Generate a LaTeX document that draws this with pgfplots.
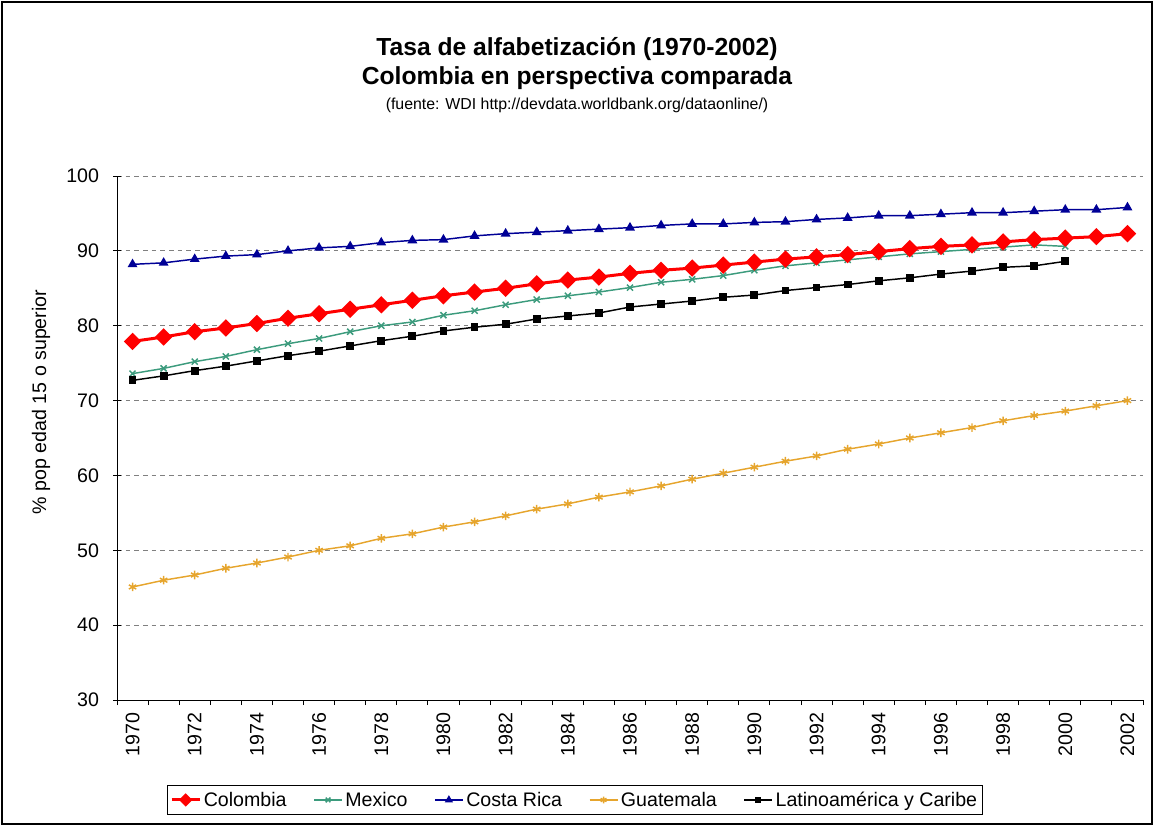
\documentclass[border=0pt]{standalone}
\usepackage{fontspec}
\setmainfont{Liberation Sans}
\usepackage{pgfplots}
\pgfplotsset{compat=1.18}
\definecolor{colred}{RGB}{255,0,0}
\definecolor{mexgreen}{RGB}{60,155,125}
\definecolor{crblue}{RGB}{0,0,150}
\definecolor{guagold}{RGB}{230,165,45}
\definecolor{gridgray}{RGB}{128,128,128}
\begin{document}
\begin{tikzpicture}
\useasboundingbox (0pt,0pt) rectangle (865.5pt,619.5pt);
\draw[line width=1.5pt] (1.5pt,1.5pt) rectangle (864pt,618pt);
\node[anchor=base,font=\fontsize{18.5}{22}\selectfont\bfseries] at (432.75pt,577.5pt) {Tasa de alfabetización (1970-2002)};
\node[anchor=base,font=\fontsize{18.5}{22}\selectfont\bfseries] at (432.75pt,555.75pt) {Colombia en perspectiva comparada};
\node[anchor=base,font=\fontsize{11.9}{14}\selectfont] at (432.75pt,537pt) {(fuente: WDI http://devdata.worldbank.org/dataonline/)};
\node[rotate=90,font=\fontsize{14.7}{17}\selectfont] at (30.75pt,318pt) {\% pop edad 15 o superior};
\begin{axis}[
  at={(87.75pt,94.5pt)}, anchor=south west,
  scale only axis, width=769.5pt, height=393pt,
  xmin=1969.5, xmax=2002.5, ymin=30, ymax=100,
  axis lines=left, axis line style={-, line width=0.75pt, black},
  ytick={30,40,...,100},
  xtick={1970,1972,...,2002},
  minor xtick={1969.5,1970.5,...,2002.5},
  tick align=center,
  major tick length=6pt,
  minor tick length=3.75pt,
  major x tick style={draw=none},
  minor x tick style={line width=0.75pt, black, yshift=-1.875pt},
  major y tick style={line width=0.75pt, black},
  ymajorgrids,
  major grid style={gridgray, line width=0.75pt, dash pattern=on 3.5pt off 3pt},
  tick label style={font=\fontsize{14.7}{17}\selectfont},
  /pgf/number format/assume math mode=true,
  /pgf/number format/1000 sep={},
  xticklabel style={yshift=-3pt, rotate=90, anchor=east},
  yticklabel style={xshift=-7pt},
  legend style={at={(0.4464,-0.1908)}, anchor=center, draw=black, line width=0.75pt,
    font=\fontsize{14.7}{17}\selectfont, inner xsep=2pt, inner ysep=3pt,
    /tikz/every even column/.append style={column sep=18pt}},
  legend columns=5,
  legend image code/.code={\draw[mark repeat=2,mark phase=2,#1] plot coordinates {(0pt,0pt) (10.5pt,0pt) (21pt,0pt)};},
]
\addlegendimage{colred, line width=2.25pt, mark=square*, mark size=2.4pt, mark options={rotate=45, solid}}
\addlegendentry{Colombia}
\addlegendimage{mexgreen, line width=1.1pt, mark=x, mark size=2.5pt}
\addlegendentry{Mexico}
\addlegendimage{crblue, line width=1.1pt, mark=triangle*, mark size=2.5pt}
\addlegendentry{Costa Rica}
\addlegendimage{guagold, line width=1.1pt, mark=asterisk, mark size=2.5pt}
\addlegendentry{Guatemala}
\addlegendimage{black, line width=1.1pt, mark=square*, mark size=1.8pt}
\addlegendentry{Latinoamérica y Caribe}

\addplot[forget plot, mexgreen, line width=1.1pt, mark=x, mark size=3.2pt] coordinates {
(1970,73.6)(1971,74.3)(1972,75.2)(1973,75.9)(1974,76.8)(1975,77.6)(1976,78.3)(1977,79.2)(1978,80.0)(1979,80.5)(1980,81.4)(1981,82.0)(1982,82.8)(1983,83.5)(1984,84.0)(1985,84.5)(1986,85.1)(1987,85.8)(1988,86.2)(1989,86.7)(1990,87.4)(1991,88.0)(1992,88.4)(1993,88.8)(1994,89.2)(1995,89.6)(1996,89.9)(1997,90.2)(1998,90.5)(1999,90.8)(2000,90.6)};
\addplot[forget plot, crblue, line width=1.1pt, mark=triangle*, mark size=3.2pt] coordinates {
(1970,88.2)(1971,88.4)(1972,88.9)(1973,89.3)(1974,89.5)(1975,90.0)(1976,90.4)(1977,90.6)(1978,91.1)(1979,91.4)(1980,91.5)(1981,92.0)(1982,92.3)(1983,92.5)(1984,92.7)(1985,92.9)(1986,93.1)(1987,93.4)(1988,93.6)(1989,93.6)(1990,93.8)(1991,93.9)(1992,94.2)(1993,94.4)(1994,94.7)(1995,94.7)(1996,94.9)(1997,95.1)(1998,95.1)(1999,95.3)(2000,95.5)(2001,95.5)(2002,95.8)};
\addplot[forget plot, guagold, line width=1.1pt, mark=asterisk, mark size=3.2pt] coordinates {
(1970,45.1)(1971,46.0)(1972,46.7)(1973,47.6)(1974,48.3)(1975,49.1)(1976,50.0)(1977,50.6)(1978,51.6)(1979,52.2)(1980,53.1)(1981,53.8)(1982,54.6)(1983,55.5)(1984,56.2)(1985,57.1)(1986,57.8)(1987,58.6)(1988,59.5)(1989,60.3)(1990,61.1)(1991,61.9)(1992,62.6)(1993,63.5)(1994,64.2)(1995,65.0)(1996,65.7)(1997,66.4)(1998,67.3)(1999,68.0)(2000,68.6)(2001,69.3)(2002,70.0)};
\addplot[forget plot, black, line width=1.1pt, mark=square*, mark size=2.4pt] coordinates {
(1970,72.7)(1971,73.3)(1972,74.0)(1973,74.6)(1974,75.3)(1975,76.0)(1976,76.6)(1977,77.3)(1978,78.0)(1979,78.6)(1980,79.3)(1981,79.8)(1982,80.2)(1983,80.9)(1984,81.3)(1985,81.7)(1986,82.5)(1987,82.9)(1988,83.3)(1989,83.8)(1990,84.1)(1991,84.7)(1992,85.1)(1993,85.5)(1994,86.0)(1995,86.4)(1996,86.9)(1997,87.3)(1998,87.8)(1999,88.0)(2000,88.6)};
\addplot[forget plot, colred, line width=2.25pt, mark=square*, mark size=3.5pt, mark options={rotate=45}] coordinates {
(1970,77.9)(1971,78.5)(1972,79.2)(1973,79.7)(1974,80.3)(1975,81.0)(1976,81.6)(1977,82.2)(1978,82.8)(1979,83.4)(1980,84.0)(1981,84.5)(1982,85.0)(1983,85.6)(1984,86.1)(1985,86.5)(1986,87.0)(1987,87.4)(1988,87.7)(1989,88.1)(1990,88.5)(1991,88.9)(1992,89.2)(1993,89.5)(1994,89.9)(1995,90.3)(1996,90.6)(1997,90.8)(1998,91.2)(1999,91.5)(2000,91.7)(2001,91.9)(2002,92.3)};
\end{axis}
\end{tikzpicture}
\end{document}
